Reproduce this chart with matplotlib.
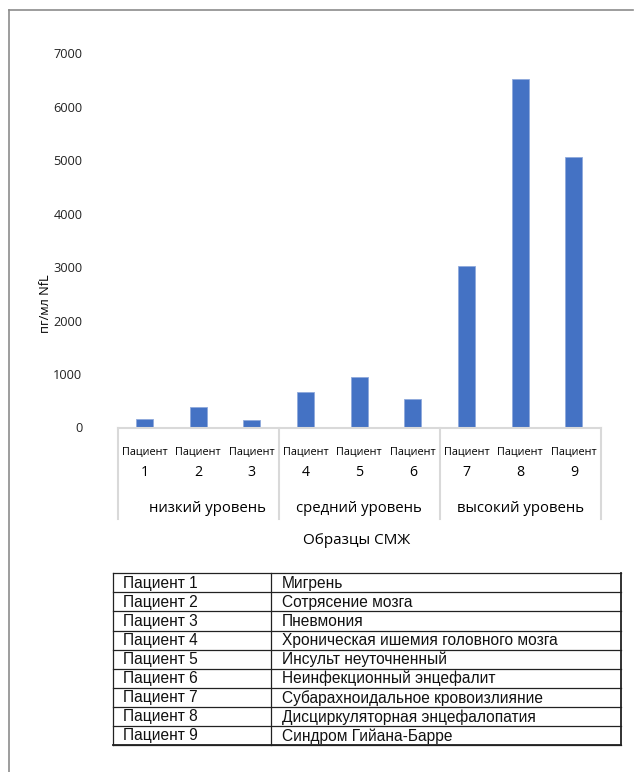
import matplotlib.pyplot as plt
from matplotlib.lines import Line2D
import matplotlib.transforms as mtransforms

# NfL concentration per patient (pg/ml)
patients = ['1', '2', '3', '4', '5', '6', '7', '8', '9']
nfl_values = [150, 375, 135, 670, 940, 535, 3025, 6510, 5065]
groups = ['низкий уровень', 'средний уровень', 'высокий уровень']
group_pos = [1.17, 4.0, 7.0]
diagnoses = ['Мигрень', 'Сотрясение мозга', 'Пневмония',
             'Хроническая ишемия головного мозга', 'Инсульт неуточненный',
             'Неинфекционный энцефалит', 'Субарахноидальное кровоизлияние',
             'Дисциркуляторная энцефалопатия', 'Синдром Гийана-Барре']

W, H = 638, 772
fig = plt.figure(figsize=(W / 100, H / 100), dpi=100)
fig.patch.set_facecolor('white')

chart_font = 'Open Sans'
table_font = 'Liberation Sans'
axis_grey = '#d9d9d9'

# bar chart
ax = fig.add_axes([117.7 / W, 1 - 427.5 / H, 483 / W, 374.2 / H])
x = list(range(len(patients)))
ax.bar(x, nfl_values, width=0.32, color='#4472C4', edgecolor='#8fa9dc', linewidth=0.6)
ax.set_xlim(-0.5, 8.5)
ax.set_ylim(0, 7000)
ax.set_yticks(range(0, 7001, 1000))
ax.tick_params(axis='y', length=0, pad=25.5, labelsize=9.2, labelcolor='#222222')
for lbl in ax.get_yticklabels():
    lbl.set_family(chart_font)
ax.set_xticks([])
for side in ['top', 'right', 'left']:
    ax.spines[side].set_visible(False)
ax.spines['bottom'].set_color(axis_grey)
ax.spines['bottom'].set_linewidth(1.5)

ax.set_ylabel('пг/мл NfL', family=chart_font, fontsize=9.2)
ax.yaxis.set_label_coords(-0.135, 0.33)

# multi-level category axis
trans = mtransforms.blended_transform_factory(ax.transData, ax.transAxes)
sep_bottom = -(519 - 427.5) / 374.2
for sx in [-0.5, 2.5, 5.5, 8.5]:
    ax.add_line(Line2D([sx, sx], [0, sep_bottom], transform=trans, color=axis_grey,
                       lw=1.5, clip_on=False))
for i, p in zip(x, patients):
    ax.text(i, -(452.7 - 427.5) / 374.2, 'Пациент', transform=trans, ha='center',
            va='center', fontsize=7.8, family=chart_font)
    ax.text(i, -(473 - 427.5) / 374.2, p, transform=trans, ha='center',
            va='center', fontsize=10.2, family=chart_font)
for gx, name in zip(group_pos, groups):
    ax.text(gx, -(508 - 427.5) / 374.2, name, transform=trans, ha='center',
            va='center', fontsize=10.7, family=chart_font)

fig.text(357 / W, 1 - 540 / H, 'Образцы СМЖ', ha='center', va='center',
         fontsize=11, family=chart_font)

# diagnosis table
tl, tr, tt, tb = 112.7, 621, 573.3, 745
tax = fig.add_axes([tl / W, 1 - tb / H, (tr - tl) / W, (tb - tt) / H])
tax.set_xlim(tl, tr)
tax.set_ylim(len(diagnoses), 0)
tax.axis('off')
col_x = 271
for r in range(len(diagnoses) + 1):
    tax.plot([tl, tr], [r, r], color='#222222', lw=0.9, clip_on=False)
tax.plot([tl, tl], [0, len(diagnoses)], color='#222222', lw=0.9, clip_on=False)
tax.plot([tr, tr], [0, len(diagnoses)], color='#222222', lw=1.3, clip_on=False)
tax.plot([col_x, col_x], [0, len(diagnoses)], color='#222222', lw=0.9, clip_on=False)
tax.plot([tl, tr], [len(diagnoses), len(diagnoses)], color='#222222', lw=1.3, clip_on=False)
for r, (p, d) in enumerate(zip(patients, diagnoses)):
    tax.text(123.5, r + 0.52, 'Пациент ' + p, va='center', ha='left',
             fontsize=11.2, family=table_font, color='#111111')
    tax.text(282, r + 0.52, d, va='center', ha='left',
             fontsize=11.2, family=table_font, color='#111111')

# page frame
fig.add_artist(Line2D([9 / W, 633 / W], [1 - 10 / H, 1 - 10 / H],
                      transform=fig.transFigure, color='#8c8c8c', lw=1.2))
fig.add_artist(Line2D([9 / W, 9 / W], [1 - 10 / H, 0],
                      transform=fig.transFigure, color='#8c8c8c', lw=1.2))

fig.savefig('out.png', dpi=100)
